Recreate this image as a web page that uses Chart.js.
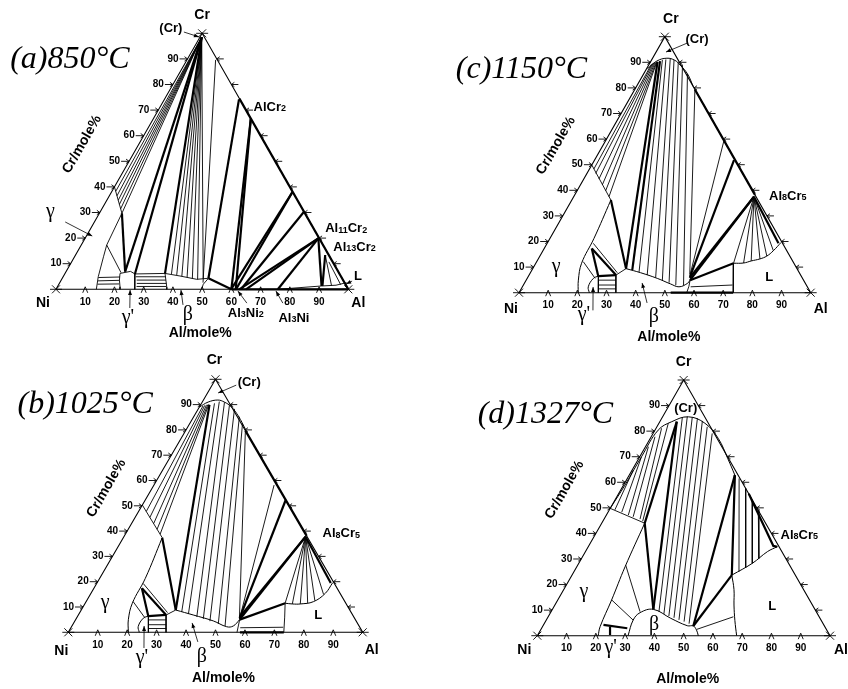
<!DOCTYPE html>
<html>
<head>
<meta charset="utf-8">
<script src="https://cdn.jsdelivr.net/npm/chart.js@4.4.0/dist/chart.umd.min.js"></script>
<style>
body { margin: 0; background: #fff; width: 848px; height: 689px; overflow: hidden; position: relative; }
canvas { position: absolute; left: 0; top: 0; }
</style>
</head>
<body>
<canvas id="pa" width="848" height="689"></canvas>
<canvas id="pb" width="848" height="689"></canvas>
<canvas id="pc" width="848" height="689"></canvas>
<canvas id="pd" width="848" height="689"></canvas>
<script>
// every point is [Al mole%, Cr mole%], Ni is the rest
const TICKS = [10, 20, 30, 40, 50, 60, 70, 80, 90];
const TICK_LABELS = ['10', '20', '30', '40', '50', '60', '70', '80', '90'];
const triangle = [[0, 0], [100, 0], [0, 100], [0, 0]];

// (a) 850 C
const aThick = [
  [[7.7, 29.7], [20.2, 6.9]],
  [[20.2, 6.9], [0.6, 98.5]],
  [[24, 6], [0.6, 98.5]],
  [[34.2, 6.2], [0.6, 98.5]],
  [[50, 4.3], [25.5, 74.2]],
  [[50, 4.3], [60, 0]],
  [[33.3, 66.7], [60, 0]],
  [[33.3, 66.7], [61.5, 0]],
  [[61.9, 38.1], [59.9, 0]],
  [[61.9, 38.1], [61.6, 0]],
  [[69.7, 30.3], [63.3, 0]],
  [[79.8, 19.9], [62.7, 0]],
  [[79.8, 19.9], [65, 0]],
  [[79.8, 19.9], [75.9, 0]],
  [[79.8, 19.9], [90.2, 1.3]],
  [[85.4, 13.4], [90.5, 1.3]],
  [[25.5, 74.5], [100, 0]],
  [[60, 0], [100, 0]]
];
const aThin = [
  [[0.6, 98.5], [1.3, 38.3]],
  [[0.6, 98.5], [2.6, 36.5]],
  [[0.6, 98.5], [3.9, 34.8]],
  [[0.6, 98.5], [5.1, 33.2]],
  [[0.6, 98.5], [6.4, 31.4]],
  [[0.6, 98.5], [7.7, 29.7]],
  [[0, 40], [7.7, 29.7], [8.7, 17.3], [9.9, 12.7], [12, 4.9], [13.8, 0]],
  [[8.7, 17.3], [19, 6.5]],
  [[12.2, 4.6], [19.5, 4.8]],
  [[12.7, 3.3], [19.9, 3.5]],
  [[13.2, 2], [20.5, 2.1]],
  [[18.8, 6.2], [19.9, 3.6], [21.4, 1], [21.9, 0]],
  [[18.8, 6.2], [22, 7], [24, 6]],
  [[24, 6], [25.2, 3.5], [26.6, 0.6], [27, 0]],
  [[24, 6], [34.2, 6.2]],
  [[34.2, 6.2], [37.5, 0.8], [37.9, 0]],
  [[24.8, 4.9], [35.1, 4.9]],
  [[25.8, 3.6], [35.8, 3.6]],
  [[26.5, 2.3], [36.6, 2.3]],
  [[27, 1.1], [37.2, 1.1]],
  [[34.2, 6.2], [39.8, 5.2], [46.2, 3.9], [50, 4.3]],
  [[50, 4.3], [49.4, 2], [49.8, 0]],
  [[0.6, 98.5], [36.5, 6]],
  [[0.6, 98.5], [38.5, 5.6]],
  [[0.6, 98.5], [40.5, 5.1]],
  [[0.6, 98.5], [42.5, 4.7]],
  [[0.6, 98.5], [44.5, 4.3]],
  [[0.6, 98.5], [46.5, 3.9]],
  [[0.6, 98.5], [48.3, 4.1]],
  [[9.8, 89.6], [49, 2.6]],
  [[85.4, 13.4], [93.5, 1.5]],
  [[88, 10.7], [96.5, 1.8]],
  [[90.2, 1.3], [95, 1.6], [98.1, 2.6]],
  [[75.9, 0], [90.2, 1.3]]
];
const aCurves = [];

// (b) 1025 C
const bCurves = [
  [[0, 89], [2, 91], [4.9, 91.8], [7.5, 91], [10.7, 89.2], [15, 85.5], [20.3, 80]],
  [[32.1, 8.8], [39, 6.85], [47, 4.5], [52.7, 2.2], [54.8, 2.5], [55.7, 5]],
  [[67.9, 11.5], [70.5, 11.2], [73.2, 11.2], [77.2, 12.1], [79.6, 15.4], [80, 19.6]],
  [[13.2, 37.4], [15.5, 21.3], [16, 11.5], [17.9, 5], [20.4, 0]],
  [[24.1, 0], [22.6, 2.3], [22.7, 5.6], [24, 6.4]]
];
const bThick = [
  [[13.2, 37.4], [32.1, 8.8]],
  [[32.1, 8.8], [3, 89.9]],
  [[47.7, 52.3], [55.4, 5.6]],
  [[61.7, 37.8], [55.7, 5]],
  [[61.7, 37.8], [55.2, 6]],
  [[55.7, 5], [67.9, 11.5]],
  [[61.7, 37.8], [79.4, 19.5]],
  [[16.3, 17.4], [24.1, 6.2]],
  [[16.3, 17.4], [29.8, 6.85]],
  [[24, 6.4], [29.8, 6.85]],
  [[20.3, 79.7], [61.9, 38.1]],
  [[58.3, 0], [73.2, 0]]
];
const bThin = [
  [[0, 50.3], [13.2, 37.4]],
  [[2.6, 47.8], [1, 89.5]],
  [[5, 45.4], [1.5, 89.7]],
  [[7.5, 43], [2, 89.9]],
  [[9.8, 40.7], [2.4, 90]],
  [[11.8, 38.8], [2.7, 90.1]],
  [[34.5, 8.05], [4.4, 90.5]],
  [[37.2, 7.2], [5.7, 91.2]],
  [[40.6, 6.1], [7.6, 90.9]],
  [[43.2, 5.3], [9.8, 89.9]],
  [[45.9, 4.4], [12.3, 88.3]],
  [[49.3, 3.3], [15.5, 85.2]],
  [[52, 2.5], [18, 82.3]],
  [[20.3, 79.7], [55, 6.3]],
  [[40.8, 58.2], [55.5, 5.3]],
  [[55.7, 5], [56.5, 2.5], [57.3, 0]],
  [[67.9, 11.5], [70.5, 6], [73.2, 0]],
  [[57.5, 1.8], [72, 2]],
  [[61.7, 37.8], [67.9, 11.5]],
  [[61.7, 37.8], [70.5, 11.2]],
  [[61.7, 37.8], [73.2, 11.2]],
  [[61.7, 37.8], [75.5, 11.6]],
  [[61.7, 37.8], [77.5, 12.5]],
  [[61.7, 37.8], [79.2, 15]],
  [[15.8, 19.3], [29.8, 7.8]],
  [[16, 12.1], [23.3, 5.6]],
  [[24, 6.4], [27.2, 0]],
  [[29.8, 6.85], [33.2, 0]],
  [[24.8, 4.9], [30.8, 4.9]],
  [[25.7, 3], [31.7, 3]],
  [[26.5, 1.5], [32.5, 1.5]],
  [[29.8, 6.85], [32.1, 8.8]]
];

// (c) 1150 C
const cCurves = [
  [[0.3, 87.5], [2, 90.5], [4.9, 91.6], [8, 90.8], [10.8, 88.9], [15, 85.5], [19.5, 80.5]],
  [[32, 9.4], [37.8, 7.8], [44.6, 5.6], [50.3, 3.4], [53.7, 2.3], [55.9, 3.6], [56.2, 4.9]],
  [[67.8, 11.5], [71.2, 11.6], [73.4, 12.4], [76, 13.2], [77.8, 14.3], [79, 16.4], [80, 19.6]],
  [[13.4, 36.2], [15.1, 21.2], [15.7, 11.5], [17.9, 4.9], [20.3, 0]],
  [[24.1, 0], [22.6, 2.3], [22.7, 5.6], [24, 6.5]]
];
const cThick = [
  [[13.4, 36.2], [32, 9.4]],
  [[32, 9.4], [2.4, 90.2]],
  [[34.4, 8.85], [3.1, 90.5]],
  [[47.8, 51.8], [55.5, 6.2]],
  [[61.8, 37.5], [56.2, 4.9]],
  [[61.8, 37.5], [55.6, 5.8]],
  [[56.2, 4.9], [67.8, 11.5]],
  [[61.8, 37.5], [79.3, 19.3]],
  [[16.3, 17.3], [24.1, 6.25]],
  [[16.3, 17.3], [29.8, 6.9]],
  [[24, 6.5], [29.8, 6.9]],
  [[20.6, 79.4], [61.8, 38.2]],
  [[52, 0], [73.4, 0]]
];
const cThin = [
  [[0, 49.9], [13.4, 36.2]],
  [[1.5, 48.3], [0.8, 89.2]],
  [[3, 46.6], [1.1, 89.5]],
  [[5.2, 44.4], [1.4, 89.7]],
  [[7.5, 42.1], [1.7, 89.9]],
  [[9.8, 39.8], [2, 90]],
  [[12.1, 37.5], [2.2, 90.1]],
  [[37.1, 8.1], [3.7, 90.9]],
  [[40.5, 6.9], [4.8, 91.1]],
  [[43.9, 5.9], [6.2, 91.3]],
  [[46.7, 4.9], [7.7, 90.9]],
  [[49.5, 3.9], [9.5, 90.2]],
  [[52.3, 2.9], [11.6, 88.9]],
  [[55, 2.8], [15, 85.5]],
  [[20.6, 79.4], [54.9, 7.3]],
  [[40.5, 59.6], [55.2, 6.8]],
  [[56.2, 4.9], [57, 2.5], [57.5, 0]],
  [[67.8, 11.5], [70.5, 6], [73.4, 0]],
  [[57.7, 2.3], [71.7, 3]],
  [[61.8, 37.5], [67.8, 11.5]],
  [[61.8, 37.5], [71.2, 11.6]],
  [[61.8, 37.5], [73.4, 12.4]],
  [[61.8, 37.5], [76, 13.2]],
  [[61.8, 37.5], [77.8, 14.3]],
  [[61.8, 37.5], [79, 16.4]],
  [[15.8, 19.3], [29.8, 7.8]],
  [[16, 12.1], [23.3, 5.6]],
  [[24, 6.5], [27.2, 0]],
  [[29.8, 6.9], [33.2, 0]],
  [[24.8, 4.9], [30.8, 4.9]],
  [[25.7, 3], [31.7, 3]],
  [[26.5, 1.5], [32.5, 1.5]],
  [[29.8, 6.9], [32, 9.4]]
];

// (d) 1327 C
const dCurves = [
  [[0, 49.8], [0.5, 58.9], [0.6, 70], [1.1, 80.4], [4.1, 83.7], [8.8, 85.6], [15.7, 83.1], [23.2, 77.2], [30.5, 69.2], [36.1, 62.8]],
  [[31, 0], [29.7, 6.1], [30.6, 9], [34.5, 10.3], [42.2, 6.8], [49.3, 3.9], [51.4, 3.8], [53.3, 2.2], [55, 0]],
  [[54.6, 23.7], [59.3, 28.3], [62.2, 32.9], [64.6, 34.8]],
  [[54.6, 23.7], [58.2, 18], [61.2, 12], [64.5, 6], [68.1, 0]],
  [[14.7, 44], [16.5, 27], [18.4, 14], [19.7, 3.5], [20.8, 0]]
];
const dThick = [
  [[14.7, 44], [5.8, 83.7]],
  [[14.7, 44], [34.5, 10.3]],
  [[34.5, 10.3], [5.8, 83.7]],
  [[51.4, 3.8], [36.1, 62.8]],
  [[36.1, 62.8], [54.6, 23.7]],
  [[54.6, 23.7], [51.4, 3.8]],
  [[44.5, 55.5], [63.1, 35.1], [64.6, 34.8]],
  [[20.5, 4.2], [29.3, 2.9]],
  [[23.1, 3.5], [24.7, 0.3]]
];
const dThin = [
  [[0, 49.8], [14.7, 44]],
  [[1.9, 49.2], [0.4, 64.8]],
  [[4.7, 48.3], [0.6, 70]],
  [[7.5, 47.2], [1, 73.9]],
  [[9.5, 46.5], [1.3, 77.8]],
  [[12.3, 45.6], [1.9, 81.1]],
  [[13.6, 44.8], [3.2, 83.1]],
  [[36.9, 9.3], [6.9, 85.3]],
  [[39, 8.5], [8.4, 85.7]],
  [[41.1, 7.7], [10.2, 85.5]],
  [[43.2, 7], [12.2, 85]],
  [[45.3, 6.2], [14.4, 84]],
  [[47.4, 5.5], [17.2, 81.7]],
  [[49.5, 4.7], [20.2, 79.1]],
  [[38.2, 61.5], [56.4, 25]],
  [[42.4, 57.6], [57.9, 26.6]],
  [[46.9, 53.1], [59.3, 28.3]],
  [[51, 49], [60.6, 30.2]],
  [[16.4, 27.6], [30.4, 9.4]],
  [[18.4, 14], [29.7, 6.1]],
  [[53.3, 2.5], [63.3, 7.4]]
];

// phase names: [text, Al, Cr, align]
const aNotes = [
  ['(Cr)', -11.7, 102, 'center'], ['AlCr2', 32, 71.2, 'left'], ['Al11Cr2', 80.3, 23.6, 'left'],
  ['Al13Cr2', 86.6, 16.5, 'left'], ['L', 100.7, 5.2, 'center'], ['γ', -17, 30.2, 'center'],
  ["γ'", 30.2, -11.2, 'center'], ['β', 50.1, -10, 'center'], ['Al3Ni2', 69.6, -9.3, 'center'],
  ['Al3Ni', 87, -11.2, 'center']
];
const aArrows = [
  [-6.5, 100.5, -0.4, 98.6], [99.7, 3.2, 98.2, 2.1], [-10, 26.3, 2, 20.8], [28.9, -7.3, 25.5, -0.3],
  [46.5, -6.1, 42.9, -0.3], [68, -5.4, 62.6, -0.7], [80.3, -5.4, 75.6, -0.7]
];
const bNotes = [
  ['(Cr)', 12, 98.9, 'center'], ['Al8Cr5', 66.9, 38.9, 'left'], ['γ', 6.7, 11.6, 'center'],
  ['L', 81.5, 6.8, 'center'], ['β', 50.3, -9.8, 'center'], ["γ'", 30.1, -10.2, 'center']
];
const bArrows = [[8.2, 97.7, 3.6, 94.6], [45.9, -3.8, 40.2, 3.7], [28.8, -6.2, 24.5, 2.5]];
const cNotes = [
  ['(Cr)', 11.5, 99.1, 'center'], ['Al8Cr5', 66.8, 37.8, 'left'], ['γ', 7.7, 10, 'center'],
  ['L', 82.7, 6.1, 'center'], ['β', 51, -9.5, 'center'], ["γ'", 26.6, -8.7, 'center']
];
const cArrows = [[8.9, 97.5, 3.4, 94], [45.9, -4, 40.3, 3.8], [28.8, -6.9, 24.3, 2.2]];
const dNotes = [
  ['(Cr)', 6.2, 89, 'center'], ['Al8Cr5', 63.4, 39.4, 'left'], ['γ', 7.4, 17.1, 'center'],
  ['β', 37.8, 4.2, 'center'], ["γ'", 27.5, -4.9, 'center'], ['L', 74.6, 11.3, 'center']
];
const dArrows = [];

const panels = [
  { id: 'pa', title: '(a)850°C', ni: [56, 289.3], al: [348.3, 289.3], crY: 33.3,
    titleOff: [-192, 35], crOff: [0, -18], niOff: [-13, 14], alOff: [10, 14], axOff: [-2, 44], crAxOff: [-47, -17],
    thick: aThick, thin: aThin, curves: aCurves, notes: aNotes, arrows: aArrows },
  { id: 'pb', title: '(b)1025°C', ni: [68.3, 632.3], al: [362.7, 632.3], crY: 379.3,
    titleOff: [-198, 34], crOff: [-1, -19], niOff: [-7, 19], alOff: [9, 18], axOff: [8, 46], crAxOff: [-35.5, -17.5],
    thick: bThick, thin: bThin, curves: bCurves, notes: bNotes, arrows: bArrows },
  { id: 'pc', title: '(c)1150°C', ni: [519, 292.7], al: [810.7, 292.7], crY: 36.7,
    titleOff: [-209, 41], crOff: [6, -18], niOff: [-8, 16], alOff: [10, 16], axOff: [4, 44], crAxOff: [-36, -19],
    thick: cThick, thin: cThin, curves: cCurves, notes: cNotes, arrows: cArrows },
  { id: 'pd', title: '(d)1327°C', ni: [537.3, 635.7], al: [830, 635.7], crY: 380,
    titleOff: [-206, 43], crOff: [0, -18], niOff: [-13, 14], alOff: [11, 14], axOff: [4, 43], crAxOff: [-46, -18],
    thick: dThick, thin: dThin, curves: dCurves, notes: dNotes, arrows: dArrows }
];

const SANS = '"Liberation Sans", Arial, sans-serif';
const SERIF = '"Liberation Serif", "Times New Roman", serif';

function toXY(line) {
  return line.map(p => ({ x: p[0] + p[1] / 2, y: p[1] }));
}

function phaseText(ctx, t, x, y, align) {
  if (/[γβ]/.test(t)) {
    ctx.font = '20px ' + SERIF;
    ctx.textAlign = align;
    ctx.fillText(t, x, y);
    return;
  }
  const runs = t.match(/\d+|\D+/g);
  const isNum = s => /^\d+$/.test(s);
  const fontFor = s => isNum(s) ? 'bold 9px ' + SANS : 'bold 13px ' + SANS;
  let w = 0;
  runs.forEach(s => { ctx.font = fontFor(s); w += ctx.measureText(s).width; });
  let x0 = align === 'center' ? x - w / 2 : x;
  ctx.textAlign = 'left';
  runs.forEach(s => {
    ctx.font = fontFor(s);
    ctx.fillText(s, x0, isNum(s) ? y + 1.5 : y);
    x0 += ctx.measureText(s).width;
  });
}

function arrow(ctx, x0, y0, x1, y1) {
  const a = Math.atan2(y1 - y0, x1 - x0);
  ctx.beginPath();
  ctx.moveTo(x0, y0);
  ctx.lineTo(x1, y1);
  ctx.stroke();
  ctx.beginPath();
  ctx.moveTo(x1, y1);
  ctx.lineTo(x1 - 5 * Math.cos(a) + 2 * Math.sin(a), y1 - 5 * Math.sin(a) - 2 * Math.cos(a));
  ctx.lineTo(x1 - 5 * Math.cos(a) - 2 * Math.sin(a), y1 - 5 * Math.sin(a) + 2 * Math.cos(a));
  ctx.closePath();
  ctx.fill();
}

function annotate(p) {
  return {
    id: 'notes_' + p.id,
    afterDatasetsDraw(chart) {
      const ctx = chart.ctx;
      const at = (al, cr) => [chart.scales.x.getPixelForValue(al + cr / 2), chart.scales.y.getPixelForValue(cr)];
      const ni = at(0, 0), al = at(100, 0), cr = at(0, 100);
      ctx.save();
      ctx.strokeStyle = '#000';
      ctx.fillStyle = '#000';
      ctx.lineWidth = 0.9;

      // corner marks
      [ni, al, cr].forEach(v => {
        ctx.beginPath();
        ctx.moveTo(v[0] - 6, v[1]); ctx.lineTo(v[0] + 6, v[1]);
        ctx.moveTo(v[0] - 4, v[1] - 4); ctx.lineTo(v[0] + 4, v[1] + 4);
        ctx.moveTo(v[0] - 4, v[1] + 4); ctx.lineTo(v[0] + 4, v[1] - 4);
        ctx.stroke();
      });

      // ticks on the three sides
      ctx.font = 'bold 10px ' + SANS;
      ctx.textBaseline = 'middle';
      TICKS.forEach((v, i) => {
        const b = at(v, 0), l = at(0, v), r = at(100 - v, v);
        ctx.beginPath();
        ctx.moveTo(b[0] - 2.5, b[1] + 3.5); ctx.lineTo(b[0], b[1] - 2.5); ctx.lineTo(b[0] + 2.5, b[1] + 3.5);
        ctx.moveTo(l[0] - 8, l[1]); ctx.lineTo(l[0], l[1]);
        ctx.moveTo(l[0] - 3, l[1] - 2.2); ctx.lineTo(l[0], l[1]); ctx.lineTo(l[0] - 3, l[1] + 2.2);
        ctx.moveTo(r[0] + 7, r[1]); ctx.lineTo(r[0], r[1]);
        ctx.moveTo(r[0] + 3, r[1] - 2.2); ctx.lineTo(r[0], r[1]); ctx.lineTo(r[0] + 3, r[1] + 2.2);
        ctx.stroke();
        ctx.font = 'bold 10px ' + SANS;
        ctx.textAlign = 'center';
        ctx.fillText(TICK_LABELS[i], b[0], b[1] + 12.5);
        ctx.textAlign = 'right';
        ctx.fillText(TICK_LABELS[i], l[0] - 9, l[1]);
      });

      // corner and axis names
      ctx.font = 'bold 14px ' + SANS;
      ctx.textAlign = 'center';
      ctx.fillText('Ni', ni[0] + p.niOff[0], ni[1] + p.niOff[1]);
      ctx.fillText('Al', al[0] + p.alOff[0], al[1] + p.alOff[1]);
      ctx.fillText('Cr', cr[0] + p.crOff[0], cr[1] + p.crOff[1]);
      const bm = at(50, 0), lm = at(0, 50);
      ctx.fillText('Al/mole%', bm[0] + p.axOff[0], bm[1] + p.axOff[1]);
      ctx.save();
      ctx.translate(lm[0] + p.crAxOff[0], lm[1] + p.crAxOff[1]);
      ctx.rotate(-Math.PI / 3);
      ctx.fillText('Cr/mole%', 0, 0);
      ctx.restore();

      // phase names and pointers
      p.notes.forEach(n => {
        const q = at(n[1], n[2]);
        phaseText(ctx, n[0], q[0], q[1], n[3]);
      });
      ctx.lineWidth = 0.8;
      p.arrows.forEach(a => {
        const s = at(a[0], a[1]), e = at(a[2], a[3]);
        arrow(ctx, s[0], s[1], e[0], e[1]);
      });

      // title
      ctx.font = 'italic 32px ' + SERIF;
      ctx.textAlign = 'left';
      ctx.textBaseline = 'alphabetic';
      ctx.fillText(p.title, cr[0] + p.titleOff[0], cr[1] + p.titleOff[1]);
      ctx.restore();
    }
  };
}

function makePanel(p) {
  const k = (p.al[0] - p.ni[0]) / 100;
  const ky = (p.ni[1] - p.crY) / 100;
  const datasets = [];
  const add = (lines, w, tension) => {
    lines.forEach(l => {
      datasets.push({
        data: toXY(l), showLine: true, borderColor: '#000', borderWidth: w,
        pointRadius: 0, fill: false, tension: tension || 0
      });
    });
  };
  add([triangle], 1.1);
  add(p.thin, 0.9);
  add(p.curves, 1, 0.4);
  add(p.thick, 2.2);

  new Chart(document.getElementById(p.id), {
    type: 'scatter',
    data: { datasets: datasets },
    options: {
      responsive: false,
      animation: false,
      devicePixelRatio: 1,
      events: [],
      layout: { padding: 0 },
      plugins: { legend: { display: false }, tooltip: { enabled: false } },
      scales: {
        x: { type: 'linear', display: false, bounds: 'data', min: -p.ni[0] / k, max: (848 - p.ni[0]) / k },
        y: { type: 'linear', display: false, bounds: 'data', min: -(689 - p.ni[1]) / ky, max: p.ni[1] / ky }
      }
    },
    plugins: [annotate(p)]
  });
}

panels.forEach(makePanel);
</script>
</body>
</html>
